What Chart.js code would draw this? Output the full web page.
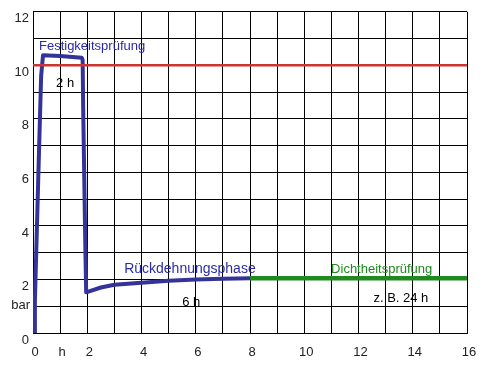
<!DOCTYPE html>
<html>
<head>
<meta charset="utf-8">
<script src="https://cdn.jsdelivr.net/npm/chart.js@4.4.1/dist/chart.umd.min.js"></script>
<style>
  html, body { margin: 0; padding: 0; background: #fff; }
  #wrap { width: 493px; height: 365px; }
</style>
</head>
<body>
<div id="wrap"><canvas id="druck"></canvas></div>
<script>
// Druckverlauf (Stunden / bar)
const blueHours    = [0.05, 0.07, 0.2, 0.3, 0.37, 1.0, 1.8, 1.83, 1.85, 1.93, 1.96, 2.5, 3, 4, 5, 6, 7, 8];
const bluePressure = [0, 1.2, 6, 9.6, 10.38, 10.35, 10.28, 10.2, 8.4, 3.2, 1.52, 1.7, 1.8, 1.88, 1.95, 2.0, 2.03, 2.05];
const redHours     = [0, 16];
const redPressure  = [10, 10];
const greenHours   = [8, 16];
const greenPressure = [2.05, 2.05];

// Beschriftungen im Diagramm: [text, x (h), y (bar), farbe, schriftgroesse]
const notes = [
  ['Festigkeitsprüfung', 0.22, 10.7, '#2b2baa', 13],
  ['2 h', 0.85, 9.34, '#000', 13],
  ['Rückdehnungsphase', 3.36, 2.37, '#2b2baa', 14],
  ['6 h', 5.5, 1.15, '#000', 13],
  ['Dichtheitsprüfung', 10.99, 2.37, '#1f8a1f', 13],
  ['z. B. 24 h', 12.55, 1.29, '#000', 13],
];

function pts(xs, ys) {
  return xs.map((x, i) => ({ x, y: ys[i] }));
}

const notesPlugin = {
  id: 'notes',
  afterDatasetsDraw(chart) {
    const { ctx, scales } = chart;
    ctx.save();
    ctx.textBaseline = 'middle';
    ctx.textAlign = 'left';
    notes.forEach(n => {
      ctx.font = n[4] + 'px "Liberation Sans", Arial, sans-serif';
      ctx.fillStyle = n[3];
      ctx.fillText(n[0], scales.x.getPixelForValue(n[1]), scales.y.getPixelForValue(n[2]));
    });
    // Einheit an der y-Achse
    ctx.font = '13px "Liberation Sans", Arial, sans-serif';
    ctx.fillStyle = '#222';
    ctx.textAlign = 'right';
    ctx.fillText('bar', scales.y.right - 3, scales.y.getPixelForValue(1.03));
    ctx.restore();
  }
};

new Chart(document.getElementById('druck'), {
  type: 'line',
  data: {
    datasets: [
      { data: pts(redHours, redPressure), borderColor: '#cc3333', borderWidth: 2.5 },
      { data: pts(greenHours, greenPressure), borderColor: '#1f8a1f', borderWidth: 4.5 },
      { data: pts(blueHours, bluePressure), borderColor: '#333399', borderWidth: 4, borderJoinStyle: 'round' },
    ]
  },
  options: {
    responsive: true,
    maintainAspectRatio: false,
    animation: false,
    layout: { padding: { top: 8, right: 26, left: 0, bottom: 0 } },
    elements: { point: { radius: 0 }, line: { tension: 0 } },
    plugins: { legend: { display: false }, tooltip: { enabled: false } },
    scales: {
      x: {
        type: 'linear', min: 0, max: 16,
        grid: { color: '#000', lineWidth: 1, drawTicks: false },
        border: { color: '#000', width: 1 },
        afterFit: s => { s.height = 32; },
        ticks: {
          stepSize: 1, autoSkip: false, maxRotation: 0,
          padding: 12, labelOffset: 2,
          color: '#222', font: { family: '"Liberation Sans", Arial, sans-serif', size: 13 },
          callback: v => v === 1 ? 'h' : (v % 2 === 0 ? String(v) : '')
        }
      },
      y: {
        min: 0, max: 12,
        grid: { color: '#000', lineWidth: 1, drawTicks: false },
        border: { color: '#000', width: 1 },
        afterFit: s => { s.width = 33; },
        ticks: {
          stepSize: 1, autoSkip: false,
          padding: 4, labelOffset: 7,
          color: '#222', font: { family: '"Liberation Sans", Arial, sans-serif', size: 13 },
          callback: v => v % 2 === 0 ? String(v) : ''
        }
      }
    }
  },
  plugins: [notesPlugin]
});
</script>
</body>
</html>
